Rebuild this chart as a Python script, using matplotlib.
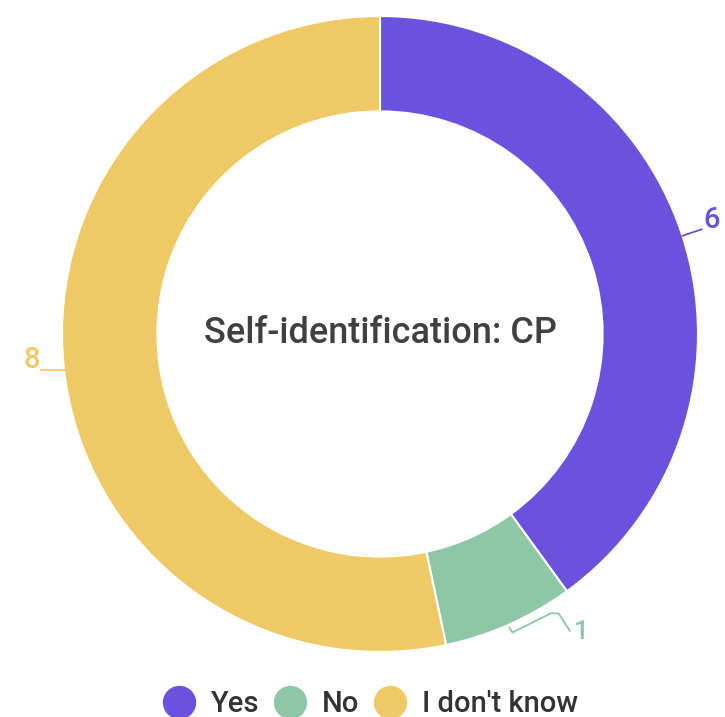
import numpy as np
import matplotlib
matplotlib.use('Agg')
import matplotlib.pyplot as plt
from matplotlib.lines import Line2D

plt.rcParams['font.family'] = ['Roboto', 'DejaVu Sans']

# Survey answers
categories = ['Yes', 'No', "I don't know"]
counts = [6, 1, 8]
colors = ['#6B52DE', '#8DC7A6', '#EEC966']
title = 'Self-identification: CP'

W, H = 725, 717
cx, cy, R = 380, 334, 318  # donut centre and radius in pixels

fig = plt.figure(figsize=(W / 100, H / 100), dpi=100)
ax = fig.add_axes([0, 0, 1, 1])

wedges, _ = ax.pie(counts, colors=colors, startangle=90, counterclock=False,
                   radius=1.0, wedgeprops=dict(width=0.30, edgecolor='white', linewidth=1.5))
# pie() resets the limits, so set them afterwards
ax.set_aspect('auto')
ax.set_xlim(-cx / R, (W - cx) / R)
ax.set_ylim(-(H - cy) / R, cy / R)
ax.axis('off')

ax.text(0, 0, title, ha='center', va='center', fontsize=26, color='#404040',
        fontweight='medium')

# Value labels with leader lines from the outer edge of each slice
for w, val, col in zip(wedges, counts, colors):
    mid = np.deg2rad((w.theta1 + w.theta2) / 2)
    x0, y0 = np.cos(mid), np.sin(mid)
    if val == 6:
        pts = [(x0, y0), (x0 + 0.06, y0 + 0.02)]
        ax.plot(*zip(*pts), color=col, lw=1.3)
        ax.text(pts[-1][0] + 0.005, pts[-1][1] - 0.015, str(val), color=col,
                fontsize=21, ha='left', va='bottom', fontweight='medium')
    elif val == 1:
        pts = [(x0, y0 - 0.01), (x0 + 0.01, y0 - 0.025), (x0 + 0.13, y0 + 0.035),
               (x0 + 0.155, y0 + 0.035), (x0 + 0.19, y0 - 0.02)]
        ax.plot(*zip(*pts), color=col, lw=1.3)
        ax.text(pts[-1][0] + 0.012, pts[-1][1] - 0.005, str(val), color=col,
                fontsize=19, ha='left', va='center', fontweight='medium')
    else:
        pts = [(x0, y0 - 0.01), (x0 - 0.07, y0 - 0.01)]
        ax.plot(*zip(*pts), color=col, lw=1.3)
        ax.text(pts[-1][0] - 0.005, pts[-1][1] - 0.01, str(val), color=col,
                fontsize=21, ha='right', va='bottom', fontweight='medium')

handles = [Line2D([], [], marker='o', linestyle='', markersize=23,
                  markerfacecolor=c, markeredgecolor=c) for c in colors]
fig.legend(handles, categories, loc='center', bbox_to_anchor=(371 / W, 1 - 704 / H),
           ncol=3, frameon=False, handlelength=1.0, handletextpad=0.6,
           columnspacing=0.55, labelcolor='#333333', prop=dict(weight='medium', size=21))

fig.savefig('out.png', dpi=100)
